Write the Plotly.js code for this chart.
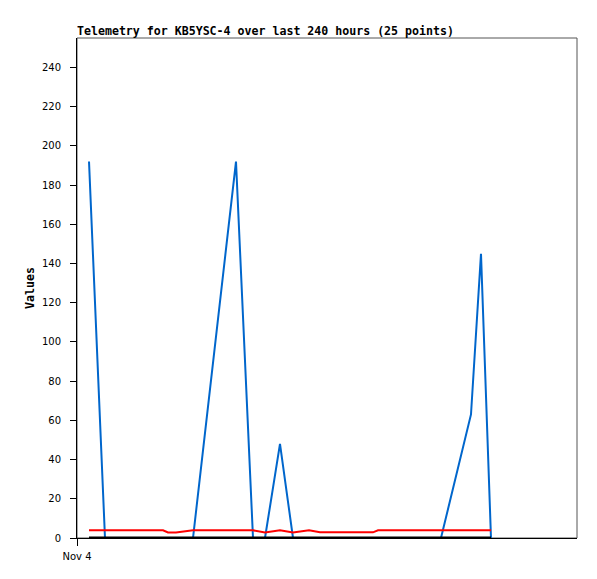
<!DOCTYPE html>
<html>
<head>
<meta charset="utf-8">
<script src="https://cdn.plot.ly/plotly-3.0.1.min.js"></script>
<style>html,body{margin:0;padding:0;background:#fff;}#chart{width:597px;height:579px;}</style>
</head>
<body>
<div id="chart"></div>
<script>
var times = [
  "2023-11-04 05:46", "2023-11-04 13:26", "2023-11-04 18:14", "2023-11-05 01:26", "2023-11-05 08:38",
  "2023-11-05 17:17", "2023-11-05 19:41", "2023-11-05 23:31", "2023-11-06 07:41", "2023-11-07 04:19",
  "2023-11-07 12:29", "2023-11-07 18:14", "2023-11-08 01:26", "2023-11-08 07:41", "2023-11-08 15:22",
  "2023-11-08 20:38", "2023-11-09 08:38", "2023-11-09 22:05", "2023-11-10 00:29", "2023-11-10 15:50",
  "2023-11-10 23:02", "2023-11-11 06:43", "2023-11-11 21:07", "2023-11-12 01:55", "2023-11-12 06:43"
];
var blueValues = [192, 0, 0, 0, 0, 0, 0, 0, 0, 192, 0, 0, 48, 0, 0, 0, 0, 0, 0, 0, 0, 0, 63, 145, 0];
var redValues = [3.9, 3.9, 3.9, 3.9, 3.9, 3.9, 2.8, 2.8, 3.9, 3.9, 3.9, 2.8, 3.9, 2.8, 3.9, 2.9, 2.9, 2.9, 3.9, 3.9, 3.9, 3.9, 3.9, 3.9, 3.9];
var blackValues = [0, 0, 0, 0, 0, 0, 0, 0, 0, 0, 0, 0, 0, 0, 0, 0, 0, 0, 0, 0, 0, 0, 0, 0, 0];
var xTickVals = ["2023-11-04 00:00"];
var xTickText = ["Nov 4"];
var yTickVals = [0, 20, 40, 60, 80, 100, 120, 140, 160, 180, 200, 220, 240];

var traces = [
  {x: times, y: blueValues, type: "scatter", mode: "lines", line: {color: "#0066cc", width: 2}, hoverinfo: "none"},
  {x: times, y: redValues, type: "scatter", mode: "lines", line: {color: "#ff0000", width: 2}, hoverinfo: "none"},
  {x: times, y: blackValues, type: "scatter", mode: "lines", line: {color: "#000000", width: 3}, hoverinfo: "none"}
];

var layout = {
  width: 597, height: 579,
  margin: {l: 77, r: 20, t: 38, b: 41},
  paper_bgcolor: "#ffffff", plot_bgcolor: "#ffffff",
  showlegend: false,
  title: {
    text: "<b>Telemetry for KB5YSC-4 over last 240 hours (25 points)</b>",
    font: {family: "DejaVu Sans Mono", size: 11.6, color: "#000"},
    x: 77/597, xref: "container", xanchor: "left",
    y: 1 - 31/579, yref: "container", yanchor: "middle"
  },
  xaxis: {
    type: "date",
    range: ["2023-11-04 00:00", "2023-11-14 00:00"],
    tickmode: "array", tickvals: xTickVals, ticktext: xTickText,
    ticks: "outside", ticklen: 7, tickcolor: "#000", tickwidth: 1,
    ticklabelstandoff: 2,
    showline: true, linecolor: "#000", linewidth: 1,
    showgrid: false, zeroline: false,
    tickfont: {family: "DejaVu Sans", size: 10, color: "#000"},
    fixedrange: true
  },
  yaxis: {
    range: [0, 255],
    tickmode: "array", tickvals: yTickVals,
    ticks: "outside", ticklen: 6, tickcolor: "#000", tickwidth: 1,
    ticklabelstandoff: 7,
    showline: true, linecolor: "#000", linewidth: 1,
    showgrid: false, zeroline: false,
    tickfont: {family: "DejaVu Sans", size: 10, color: "#000"},
    title: {text: "<b>Values</b>", font: {family: "DejaVu Sans Mono", size: 11.6, color: "#000"}, standoff: 4},
    fixedrange: true
  },
  shapes: [
    {type: "rect", xref: "paper", yref: "paper", x0: 0, x1: 1, y0: 0, y1: 1,
     line: {color: "#555555", width: 1}, layer: "below"}
  ]
};

Plotly.newPlot("chart", traces, layout, {displayModeBar: false, staticPlot: true});
</script>
</body>
</html>
